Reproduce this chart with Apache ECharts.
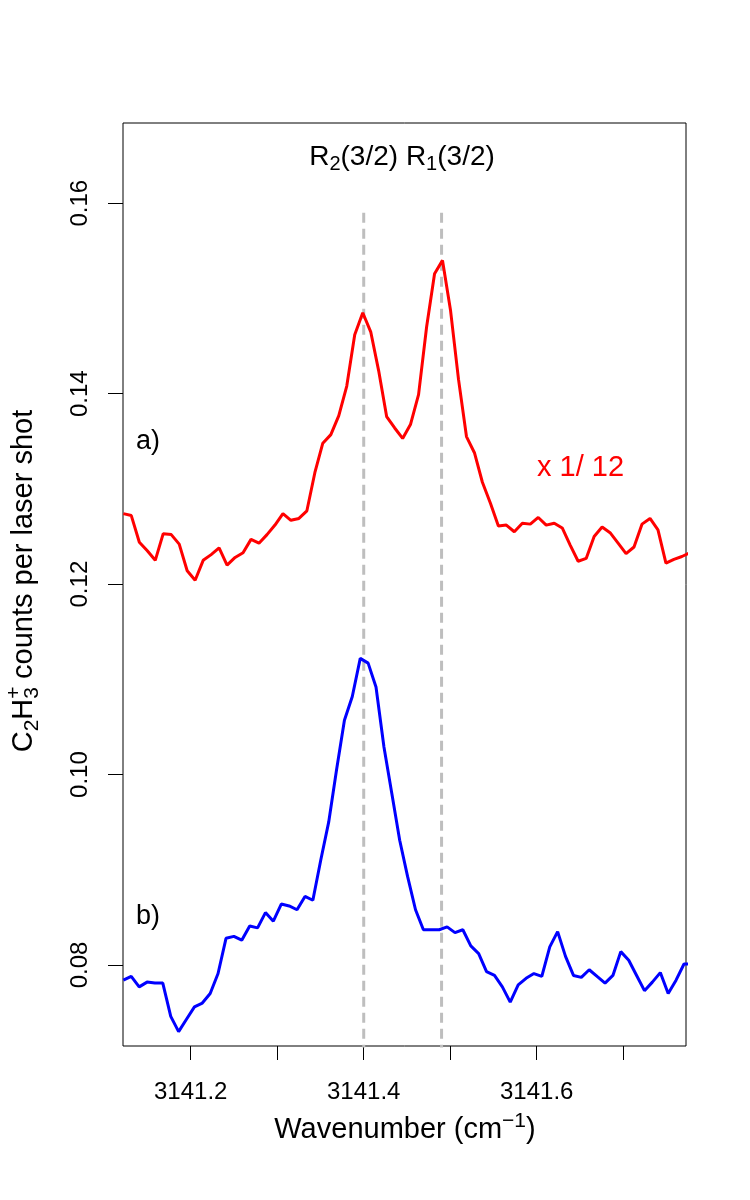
<!DOCTYPE html>
<html>
<head>
<meta charset="utf-8">
<script src="https://cdn.jsdelivr.net/npm/echarts@6/dist/echarts.min.js"></script>
<style>
html,body{margin:0;padding:0;background:#fff;}
#chart{width:750px;height:1200px;}
</style>
</head>
<body>
<div id="chart"></div>
<script>
// ---- data ----
const redX = [3141.1221,3141.1313,3141.1406,3141.1498,3141.1590,3141.1682,3141.1775,3141.1867,3141.1959,3141.2051,
  3141.2144,3141.2236,3141.2328,3141.2420,3141.2513,3141.2605,3141.2697,3141.2789,3141.2882,3141.2974,
  3141.3066,3141.3158,3141.3251,3141.3343,3141.3435,3141.3527,3141.3620,3141.3712,3141.3804,3141.3896,
  3141.3989,3141.4081,3141.4173,3141.4265,3141.4358,3141.4450,3141.4542,3141.4634,3141.4727,3141.4819,
  3141.4911,3141.5003,3141.5096,3141.5188,3141.5280,3141.5372,3141.5465,3141.5557,3141.5649,3141.5741,
  3141.5834,3141.5926,3141.6018,3141.6110,3141.6203,3141.6295,3141.6387,3141.6479,3141.6572,3141.6664,
  3141.6756,3141.6848,3141.6941,3141.7033,3141.7125,3141.7217,3141.7310,3141.7402,3141.7494,3141.7586,
  3141.7679,3141.7771];
const redY = [0.1274,0.1272,0.1244,0.1235,0.1225,0.1253,0.1252,0.1242,0.1214,0.1204,
  0.1225,0.1231,0.1238,0.1220,0.1228,0.1233,0.1247,0.1243,0.1252,0.1262,
  0.1274,0.1267,0.1269,0.1277,0.1317,0.1348,0.1357,0.1377,0.1408,0.1462,
  0.1485,0.1465,0.1424,0.1376,0.1364,0.1353,0.1368,0.1399,0.1470,0.1526,
  0.1540,0.1488,0.1415,0.1355,0.1338,0.1307,0.1285,0.1261,0.1262,0.1255,
  0.1264,0.1263,0.1270,0.1262,0.1264,0.1259,0.1241,0.1224,0.1227,0.1250,
  0.1260,0.1254,0.1243,0.1232,0.1239,0.1263,0.1269,0.1257,0.1222,0.1226,
  0.1229,0.1233];
const blueX = [3141.1221,3141.1312,3141.1404,3141.1495,3141.1586,3141.1677,3141.1769,3141.1860,3141.1951,3141.2043,
  3141.2134,3141.2225,3141.2316,3141.2408,3141.2499,3141.2590,3141.2682,3141.2773,3141.2864,3141.2955,
  3141.3047,3141.3138,3141.3229,3141.3321,3141.3412,3141.3503,3141.3595,3141.3686,3141.3777,3141.3868,
  3141.3960,3141.4051,3141.4142,3141.4234,3141.4325,3141.4416,3141.4507,3141.4599,3141.4690,3141.4781,
  3141.4873,3141.4964,3141.5055,3141.5146,3141.5238,3141.5329,3141.5420,3141.5512,3141.5603,3141.5694,
  3141.5786,3141.5877,3141.5968,3141.6059,3141.6151,3141.6242,3141.6333,3141.6425,3141.6516,3141.6607,
  3141.6698,3141.6790,3141.6881,3141.6972,3141.7064,3141.7155,3141.7246,3141.7337,3141.7429,3141.7520,
  3141.7611,3141.7703,3141.7794];
const blueY = [0.0784,0.0788,0.0777,0.0782,0.0781,0.0781,0.0746,0.0730,0.0743,0.0756,
  0.0760,0.0770,0.0791,0.0828,0.0830,0.0826,0.0841,0.0839,0.0855,0.0846,
  0.0864,0.0862,0.0858,0.0872,0.0868,0.0910,0.0950,0.1005,0.1057,0.1082,
  0.1122,0.1117,0.1092,0.1029,0.0980,0.0931,0.0893,0.0858,0.0837,0.0837,
  0.0837,0.0840,0.0834,0.0837,0.0820,0.0812,0.0793,0.0789,0.0777,0.0761,
  0.0779,0.0786,0.0791,0.0788,0.0819,0.0835,0.0809,0.0789,0.0787,0.0795,
  0.0788,0.0781,0.0789,0.0814,0.0805,0.0789,0.0773,0.0782,0.0792,0.0770,
  0.0784,0.0801,0.0801];
const lineCenters = [3141.4, 3141.49];       // dashed guide positions
const lineTop = 0.159, lineBottom = 0.06;    // dashed guide extent (clipped at axis)
const xRange = [3141.1217, 3141.7726];
const yRange = [0.07149, 0.16843];
const xTicks = [3141.2, 3141.3, 3141.4, 3141.5, 3141.6, 3141.7];
const xTickLabels = [3141.2, 3141.4, 3141.6];
const yTicks = [0.08, 0.10, 0.12, 0.14, 0.16];

// ---- helpers ----
const FONT = '"Liberation Sans", Arial, Helvetica, sans-serif';
const mctx = document.createElement('canvas').getContext('2d');
function tw(t, s){ mctx.font = s + 'px ' + FONT; return mctx.measureText(t).width; }
// tokens: [text, size, dyBaseline, advance]
function mathText(tokens, opts){
  let total = 0;
  tokens.forEach(k => { if (k[3] !== false) total += tw(k[0], k[1]); });
  let cx = opts.align === 'center' ? -total/2 : 0;
  const children = [];
  tokens.forEach(k => {
    const [t, s, dy] = k;
    children.push({type:'text', x: cx, y: dy - 0.31*s,
      style:{text:t, fontSize:s, fontFamily:FONT, fill: opts.color || '#000', align:'left', verticalAlign:'middle'}});
    if (k[3] !== false) cx += tw(t, s);
  });
  return {type:'group', x: opts.x, y: opts.y, rotation: opts.rotation || 0, children: children, silent:true};
}

const zip = (xs, ys) => xs.map((x, i) => [x, ys[i]]);

const chart = echarts.init(document.getElementById('chart'), null, {renderer:'canvas'});
const dashSeries = lineCenters.map(c => ({
  type:'line', data: [[c, lineTop], [c, lineBottom]], showSymbol:false, clip:true, z:1,
  lineStyle:{color:'#BEBEBE', width:3, type:[10,6]}, silent:true
}));
chart.setOption({
  animation:false,
  backgroundColor:'#fff',
  grid:{left:123, top:123, right:64, bottom:154, show:true, borderColor:'#000', borderWidth:1, backgroundColor:'transparent'},
  xAxis:{type:'value', min:xRange[0], max:xRange[1],
    axisLine:{show:false}, splitLine:{show:false},
    axisTick:{show:true, inside:false, length:14, lineStyle:{color:'#000', width:1}, customValues:xTicks},
    axisLabel:{show:true, customValues:xTickLabels, formatter:v => v.toFixed(1), fontSize:24, fontFamily:FONT, color:'#000', margin:34}
  },
  yAxis:{type:'value', min:yRange[0], max:yRange[1],
    axisLine:{show:false}, splitLine:{show:false},
    axisTick:{show:true, inside:false, length:15, lineStyle:{color:'#000', width:1}, customValues:yTicks},
    axisLabel:{show:true, customValues:yTicks, formatter:v => v.toFixed(2), rotate:90, fontSize:24, fontFamily:FONT, color:'#000', margin:31}
  },
  series: dashSeries.concat([
    {type:'line', name:'a', data: zip(redX, redY), showSymbol:false, clip:true, z:3,
     lineStyle:{color:'#FF0000', width:3}},
    {type:'line', name:'b', data: zip(blueX, blueY), showSymbol:false, clip:true, z:3,
     lineStyle:{color:'#0000FF', width:3}}
  ])
});

chart.setOption({graphic: [
  mathText([['C',29,0],['2',21,6],['H',29,0],['+',21,-12,false],['3',21,6],[' counts per laser shot',29,0]],
    {x:33, y:581, rotation:Math.PI/2, align:'center'}),
  mathText([['Wavenumber (cm',29,0],['\u22121',21,-11],[')',29,0]], {x:405, y:1139, align:'center'}),
  mathText([['R',28,0],['2',20,5],['(3/2) R',28,0],['1',20,5],['(3/2)',28,0]], {x:402, y:166, align:'center'}),
  mathText([['a)',27,0]], {x:136, y:450}),
  mathText([['b)',27,0]], {x:136, y:925}),
  mathText([['x 1/ 12',29,0]], {x:537, y:477, color:'#FF0000'})
]});
</script>
</body>
</html>
